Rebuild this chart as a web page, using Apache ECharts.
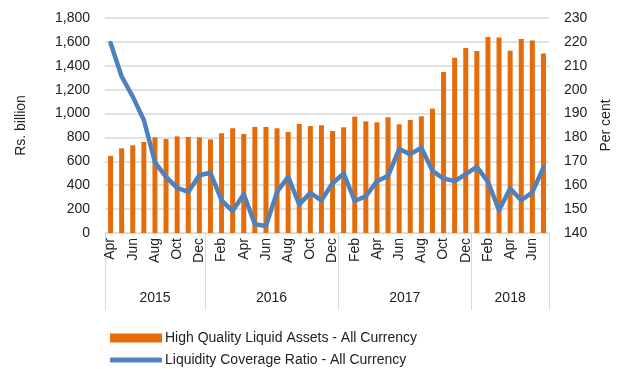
<!DOCTYPE html>
<html>
<head>
<meta charset="utf-8">
<script src="https://cdn.jsdelivr.net/npm/echarts@6/dist/echarts.min.js"></script>
<style>
  html, body { margin: 0; padding: 0; background: #fff; }
  #chart { width: 621px; height: 369px; }
</style>
</head>
<body>
<div id="chart"></div>
<script>
// Monthly observations, Apr 2015 to Jul 2018
const months = [
  'Apr','May','Jun','Jul','Aug','Sep','Oct','Nov','Dec',
  'Jan','Feb','Mar','Apr','May','Jun','Jul','Aug','Sep','Oct','Nov','Dec',
  'Jan','Feb','Mar','Apr','May','Jun','Jul','Aug','Sep','Oct','Nov','Dec',
  'Jan','Feb','Mar','Apr','May','Jun','Jul'
];
const years = ['2015', '2016', '2017', '2018'];
const monthsPerYear = [9, 12, 12, 7];

// High Quality Liquid Assets, Rs. billion
const hqla = [
  646, 709, 734, 762, 801, 787, 809, 804, 801,
  784, 835, 877, 829, 888, 888, 877, 846, 913, 896, 902, 854,
  885, 974, 935, 927, 969, 910, 946, 977, 1041, 1347, 1467, 1548,
  1523, 1641, 1637, 1526, 1624, 1612, 1503
];

// Liquidity Coverage Ratio, per cent
const lcr = [
  219.5, 205.5, 197.1, 187.3, 169.6, 163.5, 158.9, 157.2, 164.2,
  165.2, 153.7, 149.2, 156.2, 143.7, 142.9, 157.2, 163.5, 152.0, 156.8, 153.7, 160.8,
  164.9, 153.4, 155.4, 161.7, 163.9, 175.1, 173.0, 175.7, 166.0, 162.8, 161.7, 164.6,
  167.7, 161.4, 149.5, 158.6, 153.7, 157.0, 167.5
];

const seriesNames = [
  'High Quality Liquid Assets - All Currency',
  'Liquidity Coverage Ratio - All Currency'
];

const leftTicks = { min: 0, max: 1800, interval: 200 };
const rightTicks = { min: 140, max: 230, interval: 10 };

// Year boundaries and mid-points on a 0..N scale of month slots
const yearEdges = [0];
monthsPerYear.forEach(n => yearEdges.push(yearEdges[yearEdges.length - 1] + n));
const yearMids = years.map((y, i) => (yearEdges[i] + yearEdges[i + 1]) / 2);

const FONT = 'Liberation Sans, Arial, sans-serif';
const TEXT = '#222222';
const ORANGE = '#E46C0A';
const BLUE = '#4F81BD';

const legendText = { fontFamily: FONT, fontSize: 14, color: TEXT, padding: [0, 0, 0, -2] };

const chart = echarts.init(document.getElementById('chart'), null, { renderer: 'canvas' });

chart.setOption({
  animation: false,
  textStyle: { fontFamily: FONT, color: TEXT },
  grid: { left: 105, right: 69, top: 18, bottom: 136, containLabel: false },
  legend: [
    {
      left: 105,
      top: 326,
      itemWidth: 52,
      itemHeight: 9,
      textStyle: legendText,
      data: [{ name: seriesNames[0], icon: 'rect' }]
    },
    {
      left: 105,
      top: 348,
      itemWidth: 52,
      itemHeight: 5,
      textStyle: legendText,
      data: [{ name: seriesNames[1], icon: 'roundRect', itemStyle: { color: BLUE } }]
    }
  ],
  xAxis: [
    {
      type: 'category',
      data: months,
      position: 'bottom',
      axisLine: { show: true, lineStyle: { color: '#d9d9d9', width: 1 } },
      axisTick: { show: false },
      axisLabel: {
        interval: 1,
        rotate: 90,
        margin: 5,
        fontFamily: FONT,
        fontSize: 14,
        color: TEXT
      }
    },
    {
      type: 'value',
      min: 0,
      max: yearEdges[yearEdges.length - 1],
      position: 'bottom',
      axisLine: { show: false },
      splitLine: { show: false },
      axisTick: {
        show: true,
        inside: false,
        length: 77,
        customValues: yearEdges,
        lineStyle: { color: '#d9d9d9', width: 1 }
      },
      axisLabel: {
        customValues: yearMids,
        margin: 58,
        fontFamily: FONT,
        fontSize: 14,
        color: TEXT,
        formatter: function (v) {
          const i = yearMids.indexOf(v);
          return i >= 0 ? years[i] : '';
        }
      }
    }
  ],
  yAxis: [
    {
      type: 'value',
      min: leftTicks.min,
      max: leftTicks.max,
      interval: leftTicks.interval,
      name: 'Rs. billion',
      nameLocation: 'middle',
      nameRotate: 90,
      nameGap: 77,
      nameTextStyle: { fontFamily: FONT, fontSize: 14, color: TEXT },
      axisLine: { show: false },
      axisTick: { show: false },
      axisLabel: {
        margin: 15,
        fontFamily: FONT,
        fontSize: 14,
        color: TEXT,
        formatter: v => v.toLocaleString('en-US')
      },
      splitLine: { show: true, lineStyle: { color: '#d9d9d9', width: 1.5 } }
    },
    {
      type: 'value',
      min: rightTicks.min,
      max: rightTicks.max,
      interval: rightTicks.interval,
      name: 'Per cent',
      nameLocation: 'middle',
      nameRotate: 90,
      nameGap: 50,
      nameTextStyle: { fontFamily: FONT, fontSize: 14, color: TEXT },
      axisLine: { show: false },
      axisTick: { show: false },
      axisLabel: { margin: 15, fontFamily: FONT, fontSize: 14, color: TEXT },
      splitLine: { show: false }
    }
  ],
  series: [
    {
      name: seriesNames[0],
      type: 'bar',
      xAxisIndex: 0,
      yAxisIndex: 0,
      data: hqla,
      barWidth: 5,
      itemStyle: { color: ORANGE },
      z: 2
    },
    {
      name: seriesNames[1],
      type: 'line',
      xAxisIndex: 0,
      yAxisIndex: 1,
      data: lcr,
      symbol: 'none',
      showSymbol: false,
      lineStyle: { color: BLUE, width: 4.5, join: 'round', cap: 'round' },
      itemStyle: { color: BLUE },
      z: 3
    }
  ]
});
</script>
</body>
</html>
